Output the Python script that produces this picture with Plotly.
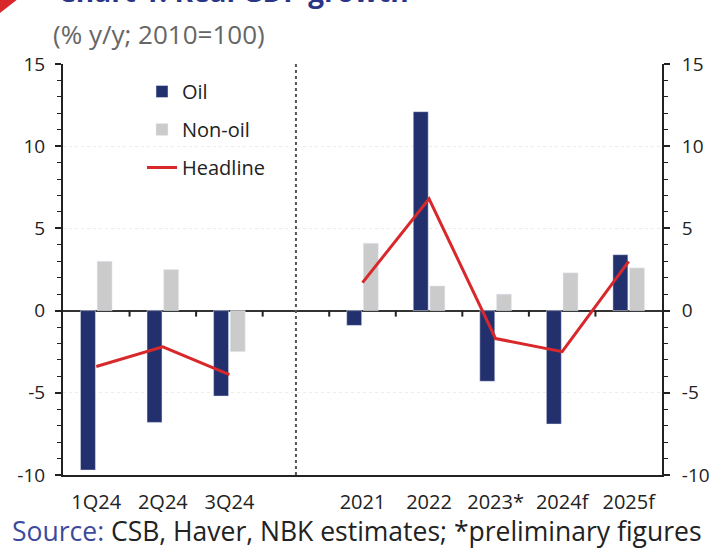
import plotly.graph_objects as go

categories = ["1Q24", "2Q24", "3Q24", " ", "2021", "2022", "2023*", "2024f", "2025f"]
oil = [-9.7, -6.8, -5.2, None, -0.9, 12.1, -4.3, -6.9, 3.4]
non_oil = [3.0, 2.5, -2.5, None, 4.1, 1.5, 1.0, 2.3, 2.6]
headline = [-3.4, -2.2, -3.9, None, 1.7, 6.8, -1.7, -2.5, 3.0]
y_ticks = [-10, -5, 0, 5, 10, 15]
y_ticktext = [str(v) for v in y_ticks]

W, H = 715, 553
L, R, T, B = 63, 53, 64, 78
pw, ph = W - L - R, H - T - B

def px(x):
    return (x - L) / pw

def py(y):
    return (H - B - y) / ph

FONT = "Open Sans, Liberation Sans, Arial, sans-serif"
NAVY = "#23306e"
GREY = "#cbcbcb"
RED = "#d9282b"
INK = "#222222"

fig = go.Figure()
fig.add_trace(go.Bar(x=categories, y=oil, name="Oil", marker_color=NAVY,
                     legendgroup="a"))
fig.add_trace(go.Bar(x=categories, y=non_oil, name="Non-oil", marker_color=GREY,
                     legendgroup="b"))
fig.add_trace(go.Scatter(x=categories, y=headline, name="Headline", mode="lines",
                         line=dict(color=RED, width=3), connectgaps=False,
                         legendgroup="c"))

n = len(categories)
fig.update_layout(
    width=W, height=H,
    margin=dict(l=L, r=R, t=T, b=B, autoexpand=False),
    paper_bgcolor="white", plot_bgcolor="white",
    font=dict(family=FONT, color=INK, size=19),
    barmode="group", bargap=0.5, bargroupgap=0.1,
    showlegend=True,
    legend=dict(x=px(142), y=py(72), xanchor="left", yanchor="top",
                bgcolor="rgba(0,0,0,0)", font=dict(size=20, color=INK),
                tracegroupgap=9, itemwidth=30),
    xaxis=dict(type="category", categoryorder="array", categoryarray=categories,
               range=[-0.5, n - 0.5], showline=True, linecolor=INK,
               linewidth=2, ticks="", showgrid=False, zeroline=False, automargin=False,
               tickfont=dict(size=20, color=INK), ticklabelstandoff=8),
    yaxis=dict(range=[-10, 15], tickvals=y_ticks, ticktext=y_ticktext, showline=True,
               linecolor=INK, linewidth=2, ticks="outside", ticklen=6, tickwidth=1.5,
               tickcolor=INK, automargin=False,
               minor=dict(dtick=1, ticks="outside", ticklen=4, tickcolor=INK,
                          tickwidth=1.2, showgrid=False),
               showgrid=True, gridcolor="#ececec", griddash="dot", gridwidth=1,
               zeroline=True, zerolinecolor="#333333", zerolinewidth=1.5,
               tickfont=dict(size=19, color=INK), ticklabelstandoff=6),
    yaxis2=dict(overlaying="y", side="right", range=[-10, 15], tickvals=y_ticks,
                ticktext=y_ticktext, showline=True, linecolor=INK, linewidth=2,
                ticks="outside", ticklen=6, tickwidth=1.5, tickcolor=INK,
                automargin=False,
                minor=dict(dtick=1, ticks="outside", ticklen=4, tickcolor=INK,
                           tickwidth=1.2, showgrid=False),
                showgrid=False, zeroline=False,
                tickfont=dict(size=19, color=INK), ticklabelstandoff=8),
)

# invisible trace to activate the right axis
fig.add_trace(go.Scatter(x=[categories[0]], y=[None], yaxis="y2", showlegend=False,
                         hoverinfo="skip"))

# category-boundary tick marks hanging below the zero line
for i in range(n - 1):
    fig.add_shape(type="line", xref="x", yref="y", x0=i + 0.5, x1=i + 0.5,
                  ysizemode="pixel", yanchor=0, y0=0, y1=-6,
                  line=dict(color=INK, width=2))

# dotted separator in the gap category
fig.add_shape(type="line", xref="x", yref="y", x0=3, x1=3, y0=-10, y1=15,
              line=dict(color="#555555", width=2, dash="dot"))

# red corner mark
fig.add_shape(type="path", xref="paper", yref="paper",
              path=f"M {px(-5)},{py(-5)} L {px(23)},{py(-5)} L {px(-5)},{py(17)} Z",
              fillcolor="#d9282b", line=dict(width=0))

fig.add_annotation(text="<b>Chart 1: Real GDP growth</b>", xref="paper", yref="paper",
                   x=px(56), y=py(12), xanchor="left", yanchor="bottom", showarrow=False,
                   font=dict(size=28, color="#2b3487", family=FONT))
fig.add_annotation(text="(% y/y; 2010=100)", xref="paper", yref="paper",
                   x=px(51), y=py(34), xanchor="left", yanchor="middle", showarrow=False,
                   font=dict(size=26, color="#666666", family=FONT))
fig.add_annotation(text="<span style='color:#3d4a9c'>Source:</span> CSB, Haver, NBK estimates; *preliminary figures",
                   xref="paper", yref="paper", x=px(10), y=py(531), xanchor="left",
                   yanchor="middle", showarrow=False,
                   font=dict(size=26.5, color=INK, family=FONT))

fig.write_html("out.html", config={"displayModeBar": False},
               post_script="document.body.style.margin='0';document.body.style.padding='0';")
